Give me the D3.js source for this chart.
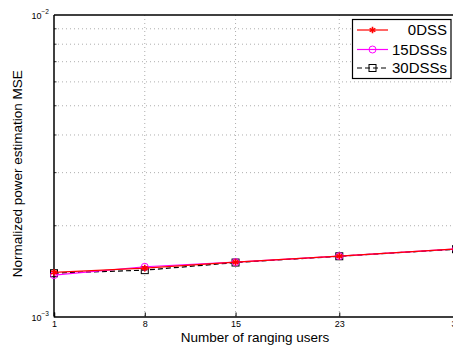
<!DOCTYPE html>
<html><head><meta charset="utf-8">
<script src="https://cdn.jsdelivr.net/npm/d3@7"></script>
<style>body{margin:0;background:#fff}svg{display:block;font-family:"Liberation Sans",Arial,sans-serif}</style>
</head><body>
<svg id="c" width="453" height="345"></svg>
<script>
const xTicks = [1, 8, 15, 23, 32];
const users = [1, 8, 15, 23, 32];
const series0 = [1.401e-3, 1.447e-3, 1.515e-3, 1.586e-3, 1.675e-3];
const series15 = [1.372e-3, 1.462e-3, 1.515e-3, 1.586e-3, 1.675e-3];
const series30 = [1.392e-3, 1.425e-3, 1.510e-3, 1.584e-3, 1.672e-3];
const seriesNames = ["0DSS", "15DSSs", "30DSSs"];
const minorY = [2e-3,3e-3,4e-3,5e-3,6e-3,7e-3,8e-3,9e-3];

const svg = d3.select("#c");
const L = 54, T = 15, B = 316.5, R = 456;
const x = d3.scaleLinear().domain([1, 32]).range([L, R]);
const y = d3.scaleLog().domain([1e-3, 1e-2]).range([B, T]);

// grid
const g = svg.append("g");
g.selectAll(".vg").data(xTicks.slice(1)).join("line")
  .attr("x1", d => x(d)).attr("x2", d => x(d)).attr("y1", T).attr("y2", B)
  .attr("stroke", "#999").attr("stroke-width", 0.8).attr("stroke-dasharray", "1,3");
g.selectAll(".hg").data(minorY).join("line")
  .attr("x1", L).attr("x2", R).attr("y1", d => y(d)).attr("y2", d => y(d))
  .attr("stroke", "#999").attr("stroke-width", 0.8).attr("stroke-dasharray", "1,3");

// axes
const xAxis = d3.axisBottom(x).tickValues(xTicks).tickSize(-4).tickPadding(4).tickFormat(d3.format("d"));
const xg = svg.append("g").attr("transform", `translate(0,${B})`).call(xAxis);
xg.select(".domain").attr("stroke-width", 1.5);
xg.selectAll("text").attr("font-size", 9).attr("fill", "#000");
svg.append("line").attr("x1", L).attr("x2", R).attr("y1", T).attr("y2", T).attr("stroke", "#000").attr("stroke-width", 1.5);
svg.append("line").attr("x1", L).attr("x2", L).attr("y1", T).attr("y2", B).attr("stroke", "#000").attr("stroke-width", 1.5);
// minor y ticks
svg.append("g").selectAll("line").data(minorY).join("line")
  .attr("x1", L).attr("x2", L + 2.5).attr("y1", d => y(d)).attr("y2", d => y(d)).attr("stroke", "#000").attr("stroke-width", 0.8);
// y tick labels
const yLab = [{v:1e-3, e:"−3"}, {v:1e-2, e:"−2"}];
yLab.forEach(o => {
  const t = svg.append("text").attr("x", L - 5).attr("y", y(o.v) + 4).attr("text-anchor", "end").attr("font-size", 9);
  t.append("tspan").text("10");
  t.append("tspan").attr("dy", -5).attr("font-size", 6.5).text(o.e);
});

// labels
svg.append("text").attr("x", 255).attr("y", 342).attr("text-anchor", "middle").attr("font-size", 13.5).text("Number of ranging users");
svg.append("text").attr("transform", `translate(22,${(T+B)/2 + 8}) rotate(-90)`).attr("text-anchor", "middle").attr("font-size", 13.5).text("Normalized power estimation MSE");

// lines
const line = d3.line().x((d,i) => x(users[i])).y(d => y(d));
const data = [series30, series15, series0];
const cfg = [
  {c:"#000", dash:"5,3", marker:"square"},
  {c:"#ff00ff", dash:null, marker:"circle"},
  {c:"#ff0000", dash:null, marker:"star"}
];
function marker(sel, type, c, cx, cy) {
  if (type === "square") sel.append("rect").attr("x", cx-3.5).attr("y", cy-3.5).attr("width", 7).attr("height", 7).attr("fill", "none").attr("stroke", c).attr("stroke-width", 1);
  else if (type === "circle") sel.append("circle").attr("cx", cx).attr("cy", cy).attr("r", 3.5).attr("fill", "none").attr("stroke", c).attr("stroke-width", 1);
  else sel.append("path").attr("d", d3.symbol(d3.symbolAsterisk, 30)()).attr("transform", `translate(${cx},${cy})`).attr("fill","none").attr("stroke", c).attr("stroke-width", 1.6);
}
data.forEach((s, k) => {
  const cf = cfg[k];
  svg.append("path").datum(s).attr("d", line).attr("fill", "none").attr("stroke", cf.c).attr("stroke-width", 1.2)
    .attr("stroke-dasharray", cf.dash);
  const mg = svg.append("g");
  s.forEach((v, i) => marker(mg, cf.marker, cf.c, x(users[i]), y(v)));
});

// legend
const lg = svg.append("g");
lg.append("rect").attr("x", 352.5).attr("y", 19.5).attr("width", 98.5).attr("height", 59).attr("fill", "#fff").attr("stroke", "#000").attr("stroke-width", 1.2);
const rows = [30, 49.5, 68];
const lcfg = [cfg[2], cfg[1], cfg[0]];
seriesNames.forEach((n, i) => {
  const cf = lcfg[i];
  lg.append("line").attr("x1", 357).attr("x2", 388).attr("y1", rows[i]).attr("y2", rows[i]).attr("stroke", cf.c).attr("stroke-width", 1.2).attr("stroke-dasharray", cf.dash ? "5,3" : null);
  marker(lg, cf.marker, cf.c, 372.5, rows[i]);
  lg.append("text").attr("x", 447).attr("y", rows[i] + 5).attr("text-anchor", "end").attr("font-size", 15).text(n);
});
</script>
</body></html>
